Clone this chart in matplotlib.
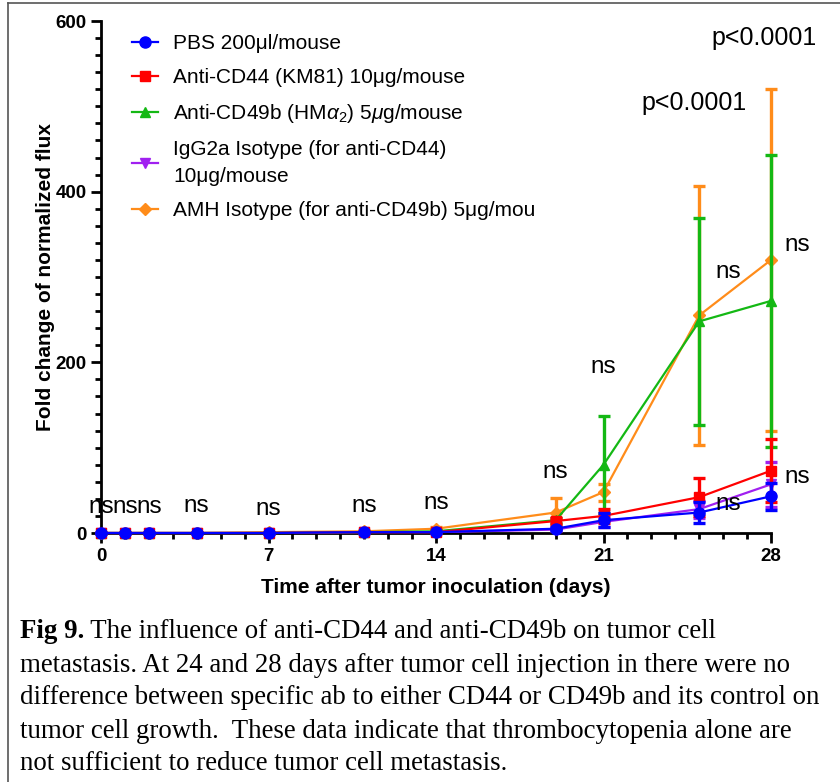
import matplotlib
matplotlib.use("Agg")
import matplotlib.pyplot as plt
from matplotlib.lines import Line2D
from matplotlib.ticker import MultipleLocator

plt.rcParams['font.family'] = ['Liberation Sans', 'DejaVu Sans']
plt.rcParams['mathtext.fontset'] = 'custom'
plt.rcParams['mathtext.rm'] = 'Liberation Sans'
plt.rcParams['mathtext.it'] = 'Liberation Sans:italic'

# data
days = [0, 1, 2, 4, 7, 11, 14, 19, 21, 25, 28]

pbs = [0, 0, 0, 0, 0, 1, 1, 5, 15, 24, 43]
pbs_err = [0, 0, 0, 0, 0, 0.5, 0.5, 2, 8, 12, 16]
cd44 = [0, 0, 0, 0, 0, 1, 1, 14, 20, 42, 73]
cd44_err = [0, 0, 0, 0, 0, 0.5, 0.5, 4, 8, 22, 37]
cd49b = [0, 0, 0, 0, 0, 1, 2, 15, 80, 248, 272]
cd49b_err = [0, 0, 0, 0, 0, 0.5, 1, 3, 57, 121, 171]
igg2a = [0, 0, 0, 0, 0, 1, 1, 4, 13, 28, 57]
igg2a_err = [0, 0, 0, 0, 0, 0.5, 0.5, 2, 6, 10, 26]
amh = [0, 0, 0, 0, 1, 2, 5, 24, 48, 255, 320]
amh_err = [0, 0, 0, 0, 0.5, 1, 2, 17, 10, 152, 200]

labels = ['PBS 200\u03bcl/mouse',
          'Anti-CD44 (KM81) 10\u03bcg/mouse',
          r'Anti-CD49b (HM$\alpha_2$) 5$\mu$g/mouse',
          'IgG2a Isotype (for anti-CD44)\n10\u03bcg/mouse',
          'AMH Isotype (for anti-CD49b) 5\u03bcg/mou']

# significance annotations (day, y)
ns_x = [0, 1, 2, 4, 7, 11, 14, 19, 21, 26.2, 29.1, 26.2, 29.1]
ns_y = [30, 30, 30, 32, 28, 32, 35, 71, 195, 306, 338, 34, 66]
p_x = [24.8, 27.7]
p_y = [504, 580]

series = [
    (amh, amh_err, '#FF8C1A', 'D', 6),
    (igg2a, igg2a_err, '#A020F0', 'v', 7),
    (cd49b, cd49b_err, '#14B814', '^', 7),
    (cd44, cd44_err, '#FF0000', 's', 7),
    (pbs, pbs_err, '#0000FF', 'o', 8),
]

fig = plt.figure(figsize=(8.4, 7.82), dpi=100)
ax = fig.add_axes([101/840, 1 - 533/782, 670/840, 512/782])

for i, (vals, err, col, mk, ms) in enumerate(series):
    ax.errorbar(days, vals, yerr=err, color=col, marker=mk, markersize=ms,
                lw=1.6, elinewidth=2.4, capsize=4, capthick=2.4,
                zorder=2 + i, clip_on=False)

ax.set_xlim(0, 28)
ax.set_ylim(0, 600)
ax.spines['top'].set_visible(False)
ax.spines['right'].set_visible(False)
ax.spines['left'].set_linewidth(2)
ax.spines['bottom'].set_linewidth(2)
ax.xaxis.set_major_locator(MultipleLocator(7))
ax.xaxis.set_minor_locator(MultipleLocator(1))
ax.yaxis.set_major_locator(MultipleLocator(200))
ax.yaxis.set_minor_locator(MultipleLocator(20))
ax.tick_params(which='major', length=7, width=2, labelsize=13.5)
ax.tick_params(which='minor', length=4, width=2)
for t in ax.get_xticklabels() + ax.get_yticklabels():
    t.set_fontweight('bold')

ax.set_xlabel('Time after tumor inoculation (days)', fontsize=15, fontweight='bold', labelpad=10)
ax.set_ylabel('Fold change of normalized flux', fontsize=15, fontweight='bold')
ax.yaxis.set_label_coords(-0.069, 0.5)

for x, y in zip(ns_x, ns_y):
    ax.text(x, y, 'ns', fontsize=17.5, ha='center', va='center', zorder=10, clip_on=False)
for x, y in zip(p_x, p_y):
    ax.text(x, y, 'p<0.0001', fontsize=18, ha='center', va='center', zorder=10)

handles = []
for vals, err, col, mk, ms in series[::-1]:
    handles.append(Line2D([0], [0], color=col, marker=mk, markersize=ms, lw=1.6))
leg = ax.legend(handles, labels, loc='upper left', bbox_to_anchor=(0.046, 0.975),
                frameon=False, fontsize=15, handlelength=1.25, handletextpad=0.75,
                labelspacing=0.72, borderpad=0, borderaxespad=0)
leg.get_texts()[3].set_linespacing(1.55)

# frame lines around the panel
fig.add_artist(Line2D([8/840, 8/840], [0, 1 - 3/782], color='#555555', lw=1.2))
fig.add_artist(Line2D([8/840, 1], [1 - 3/782, 1 - 3/782], color='#555555', lw=1.2))

# caption
cap_lines = [' The influence of anti-CD44 and anti-CD49b on tumor cell',
             'metastasis. At 24 and 28 days after tumor cell injection in there were no',
             'difference between specific ab to either CD44 or CD49b and its control on',
             'tumor cell growth.  These data indicate that thrombocytopenia alone are',
             'not sufficient to reduce tumor cell metastasis.']
cap_y = [632, 665, 698, 731, 763]
serif = ['Liberation Serif', 'DejaVu Serif']
cap_size = 19.35
head = fig.text(20/840, 1 - cap_y[0]/782, 'Fig 9.', family=serif, fontsize=cap_size,
                fontweight='bold', va='center')
fig.canvas.draw()
bb = head.get_window_extent().transformed(fig.transFigure.inverted())
fig.text(bb.x1, 1 - cap_y[0]/782, cap_lines[0], family=serif, fontsize=cap_size, va='center')
for line, y in zip(cap_lines[1:], cap_y[1:]):
    fig.text(20/840, 1 - y/782, line, family=serif, fontsize=cap_size, va='center')

fig.savefig('out.png', dpi=100)
